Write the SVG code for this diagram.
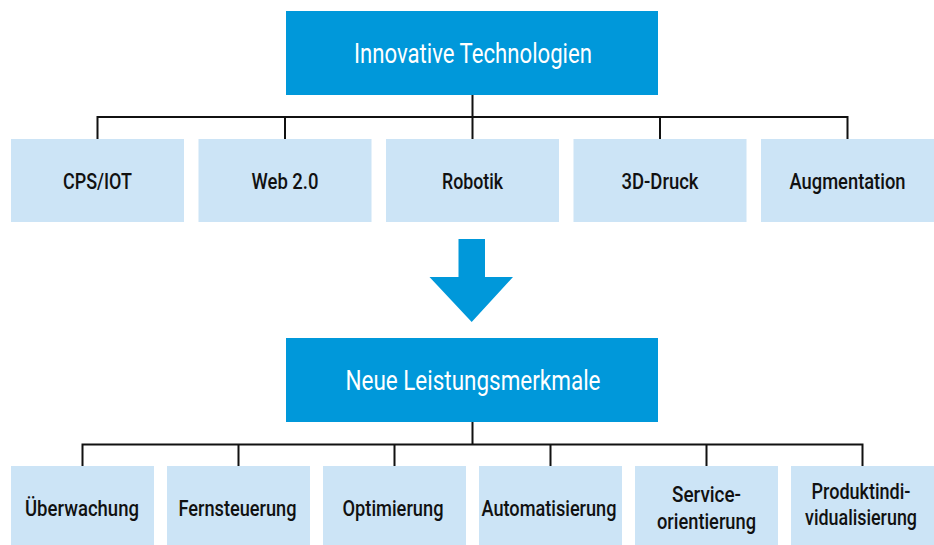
<svg xmlns="http://www.w3.org/2000/svg" width="934" height="545" viewBox="0 0 934 545">
<style>
.main{fill:#0098da}
.sub{fill:#cce4f6}
.tw{font-family:Roboto,"Liberation Sans",sans-serif;font-size:27px;fill:#ffffff;text-anchor:middle}
.tb{font-family:Roboto,"Liberation Sans",sans-serif;font-size:22px;font-weight:500;fill:#111111;text-anchor:middle}
.con{stroke:#111111;stroke-width:2;fill:none}
</style>
<rect width="934" height="545" fill="#ffffff"/>
<g id="connectors">
<path class="con" d="M472.5 95V117M97.5 117H847.5M97.5 116V139M285 116V139M472.5 116V139M660 116V139M847.5 116V139"/>
<path class="con" d="M472.5 422V444.5M82.5 444.5H862.5M82.5 443.5V466M238.5 443.5V466M394.5 443.5V466M550.5 443.5V466M706.5 443.5V466M862.5 443.5V466"/>
</g>
<g id="arrow">
<polygon class="main" points="458.5,239 485,239 485,277 513,277 471.7,322 429.5,277 458.5,277"/>
</g>
<g id="innovative">
<rect class="main" x="286" y="11" width="372" height="84"/>
<text class="tw" x="473" y="63" textLength="238" lengthAdjust="spacingAndGlyphs">Innovative Technologien</text>
</g>
<g id="cps">
<rect class="sub" x="11" y="139" width="173" height="83"/>
<text class="tb" x="97.5" y="188.5" textLength="69" lengthAdjust="spacingAndGlyphs">CPS/IOT</text>
</g>
<g id="web">
<rect class="sub" x="198.5" y="139" width="173" height="83"/>
<text class="tb" x="285" y="188.5" textLength="67" lengthAdjust="spacingAndGlyphs">Web 2.0</text>
</g>
<g id="robotik">
<rect class="sub" x="386" y="139" width="173" height="83"/>
<text class="tb" x="472.5" y="188.5" textLength="61" lengthAdjust="spacingAndGlyphs">Robotik</text>
</g>
<g id="druck">
<rect class="sub" x="573.5" y="139" width="173" height="83"/>
<text class="tb" x="660" y="188.5" textLength="77" lengthAdjust="spacingAndGlyphs">3D-Druck</text>
</g>
<g id="augmentation">
<rect class="sub" x="761" y="139" width="173" height="83"/>
<text class="tb" x="847.5" y="188.5" textLength="116" lengthAdjust="spacingAndGlyphs">Augmentation</text>
</g>
<g id="leistung">
<rect class="main" x="286" y="338" width="372" height="84"/>
<text class="tw" x="473" y="390" textLength="255" lengthAdjust="spacingAndGlyphs">Neue Leistungsmerkmale</text>
</g>
<g id="ueberwachung">
<rect class="sub" x="11" y="466" width="143" height="79"/>
<text class="tb" x="82" y="516" textLength="114" lengthAdjust="spacingAndGlyphs">Überwachung</text>
</g>
<g id="fernsteuerung">
<rect class="sub" x="167" y="466" width="143" height="79"/>
<text class="tb" x="237.5" y="516" textLength="118" lengthAdjust="spacingAndGlyphs">Fernsteuerung</text>
</g>
<g id="optimierung">
<rect class="sub" x="323" y="466" width="143" height="79"/>
<text class="tb" x="393" y="516" textLength="101" lengthAdjust="spacingAndGlyphs">Optimierung</text>
</g>
<g id="automatisierung">
<rect class="sub" x="479" y="466" width="143" height="79"/>
<text class="tb" x="549" y="516" textLength="135" lengthAdjust="spacingAndGlyphs">Automatisierung</text>
</g>
<g id="service">
<rect class="sub" x="635" y="466" width="143" height="79"/>
<text class="tb" x="706.5" y="502" textLength="69" lengthAdjust="spacingAndGlyphs">Service-</text>
<text class="tb" x="706.5" y="528.5" textLength="99" lengthAdjust="spacingAndGlyphs">orientierung</text>
</g>
<g id="produkt">
<rect class="sub" x="791" y="466" width="143" height="79"/>
<text class="tb" x="861" y="498.5" textLength="99" lengthAdjust="spacingAndGlyphs">Produktindi-</text>
<text class="tb" x="861" y="525" textLength="112" lengthAdjust="spacingAndGlyphs">vidualisierung</text>
</g>
</svg>
